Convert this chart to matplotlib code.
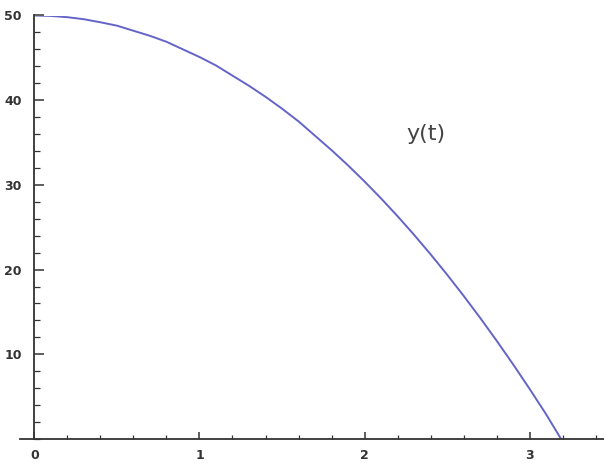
import matplotlib
matplotlib.use("Agg")
import matplotlib.pyplot as plt
from matplotlib.ticker import MultipleLocator

# values
t_values = [0.0, 0.1, 0.2, 0.3, 0.4, 0.5, 0.6, 0.7, 0.8, 0.9, 1.0,
            1.1, 1.2, 1.3, 1.4, 1.5, 1.6, 1.7, 1.8, 1.9, 2.0,
            2.1, 2.2, 2.3, 2.4, 2.5, 2.6, 2.7, 2.8, 2.9, 3.0, 3.1, 3.19]
y_values = [50.0, 49.95, 49.8, 49.56, 49.2, 48.8, 48.2, 47.6, 46.9, 46.0, 45.1,
            44.1, 42.9, 41.7, 40.4, 39.0, 37.5, 35.8, 34.1, 32.3, 30.4,
            28.4, 26.3, 24.1, 21.8, 19.4, 16.9, 14.3, 11.6, 8.8, 5.9, 2.9, 0.0]
x_ticks = [0, 1, 2, 3]
y_ticks = [10, 20, 30, 40, 50]
curve_label = "y(t)"

fig = plt.figure(figsize=(6.04, 4.63), dpi=100)
ax = fig.add_axes([20 / 604, 24 / 463, 584 / 604, 423.5 / 463])

ax.plot(t_values, y_values, color="#6464c8", linewidth=1.4, solid_capstyle="butt")

ax.set_xlim(-0.087, 3.45)
ax.set_ylim(0, 50)

# Mathematica-like axes crossing at the origin
for side in ["top", "right"]:
    ax.spines[side].set_visible(False)
ax.spines["left"].set_position(("data", 0))
ax.spines["bottom"].set_position(("data", 0))
for side in ["left", "bottom"]:
    ax.spines[side].set_color("#333333")
    ax.spines[side].set_linewidth(1.3)

ax.set_xticks(x_ticks)
ax.set_yticks(y_ticks)
ax.xaxis.set_minor_locator(MultipleLocator(0.2))
ax.yaxis.set_minor_locator(MultipleLocator(2))
ax.tick_params(axis="both", which="major", direction="in", colors="#333333",
               labelsize=9, width=1.1)
ax.tick_params(axis="x", which="major", length=5, pad=7)
ax.tick_params(axis="y", which="major", length=7, pad=9)
ax.tick_params(axis="x", which="minor", direction="in", length=3, width=0.9, color="#333333")
ax.tick_params(axis="y", which="minor", direction="in", length=4, width=0.9, color="#333333")
for lbl in ax.get_xticklabels() + ax.get_yticklabels():
    lbl.set_fontweight("semibold")

ax.text(2.37, 36.0, curve_label, fontsize=16, color="#444444", ha="center", va="center")

fig.savefig("out.png", dpi=100)
